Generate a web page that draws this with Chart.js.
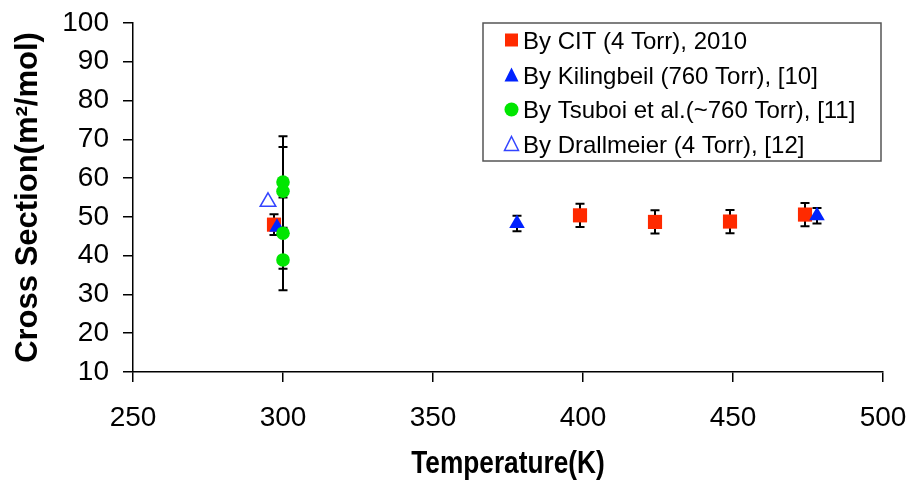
<!DOCTYPE html>
<html>
<head>
<meta charset="utf-8">
<script src="https://cdn.jsdelivr.net/npm/chart.js@4/dist/chart.umd.min.js"></script>
<style>
  html, body { margin:0; padding:0; background:#fff; }
  canvas { display:block; }
</style>
</head>
<body>
<canvas id="chart" width="914" height="482"></canvas>
<script>
// values
const xTicks = [250, 300, 350, 400, 450, 500];
const yTicks = [10, 20, 30, 40, 50, 60, 70, 80, 90, 100];

const citTemp  = [297, 399, 424, 449, 474];
const citValue = [48, 50.4, 48.7, 48.8, 50.6];
const citError = [2.7, 3, 3, 3, 3];

const kilTemp  = [298, 378, 478];
const kilValue = [47.3, 48.3, 50.3];
const kilError = [0, 2, 2];

const tsuTemp  = [300, 300, 300, 300];
const tsuValue = [59, 56.6, 45.8, 38.9];
const tsuError = [11.8, 11.4, 9.2, 7.8];

const draTemp  = [295];
const draValue = [53.9];

const seriesLabels = [
    "By CIT (4 Torr), 2010",
    "By Kilingbeil (760 Torr), [10]",
    "By Tsuboi et al.(~760 Torr), [11]",
    "By Drallmeier (4 Torr), [12]"
];
const xTitle = "Temperature(K)";
const yTitle = "Cross Section(m²/mol)";

function points(xs, ys){
    return xs.map((t,i) => ({x:t, y:ys[i]}));
}

Chart.defaults.font.family = "'Liberation Sans', Arial, sans-serif";
Chart.defaults.color = "#000";

/* error bars, drawn under the markers */
const errorBars = {
    id: "errorBars",
    beforeDatasetsDraw(chart){
        const {ctx, scales:{x, y}} = chart;
        ctx.save();
        ctx.strokeStyle = "#000";
        ctx.lineWidth = 2;
        chart.data.datasets.forEach(ds => {
            if(!ds.errors) return;
            ds.data.forEach((p,i) => {
                const e = ds.errors[i];
                if(!e) return;
                const px = x.getPixelForValue(p.x);
                const top = y.getPixelForValue(p.y + e);
                const bot = y.getPixelForValue(p.y - e);
                ctx.beginPath();
                ctx.moveTo(px, top); ctx.lineTo(px, bot);
                ctx.moveTo(px-4.5, top); ctx.lineTo(px+4.5, top);
                ctx.moveTo(px-4.5, bot); ctx.lineTo(px+4.5, bot);
                ctx.stroke();
            });
        });
        ctx.restore();
    }
};

/* condensed bold x title, centred under the plot */
const narrowTitle = {
    id: "narrowTitle",
    afterDraw(chart){
        const ctx = chart.ctx;
        const area = chart.chartArea;
        ctx.save();
        ctx.translate((area.left + area.right) / 2, 473);
        ctx.scale(0.82, 1);
        ctx.font = "bold 32px 'Liberation Sans', Arial, sans-serif";
        ctx.textAlign = "center";
        ctx.textBaseline = "alphabetic";
        ctx.fillStyle = "#000";
        ctx.fillText(xTitle, 0, 0);
        ctx.restore();
    }
};

/* boxed legend inside the plot */
const boxLegend = {
    id: "boxLegend",
    afterDraw(chart){
        const ctx = chart.ctx;
        const bx = 483, by = 23, bw = 398, bh = 138;
        ctx.save();
        ctx.fillStyle = "#fff";
        ctx.fillRect(bx, by, bw, bh);
        ctx.strokeStyle = "#555";
        ctx.lineWidth = 1.5;
        ctx.strokeRect(bx, by, bw, bh);

        const rowY = [40, 75, 109.5, 144];
        chart.data.datasets.forEach((ds, r) => {
            const cx = 511.5, cy = rowY[r];
            ctx.fillStyle = ds.backgroundColor;
            ctx.strokeStyle = ds.borderColor;
            ctx.lineWidth = ds.borderWidth || 1;
            ctx.beginPath();
            if(ds.pointStyle === "rect"){
                ctx.rect(cx-6.5, cy-6.5, 13, 13);
            } else if(ds.pointStyle === "circle"){
                ctx.arc(cx, cy, 7, 0, Math.PI*2);
            } else {
                ctx.moveTo(cx, cy-7.5);
                ctx.lineTo(cx+7, cy+6.5);
                ctx.lineTo(cx-7, cy+6.5);
                ctx.closePath();
            }
            ctx.fill();
            if(ds.borderWidth) ctx.stroke();

            ctx.fillStyle = "#000";
            ctx.font = "24px 'Liberation Sans', Arial, sans-serif";
            ctx.textBaseline = "alphabetic";
            ctx.fillText(ds.label, 523, cy + 8.6);
        });
        ctx.restore();
    }
};

const ctx = document.getElementById("chart");

const chart = new Chart(ctx, {
    type: "scatter",
    data: {
        datasets: [
        {
            label: seriesLabels[0],
            data: points(citTemp, citValue),
            errors: citError,
            pointStyle: "rect",
            pointRadius: 10,
            backgroundColor: "#ff2a00",
            borderColor: "#ff2a00",
            borderWidth: 0,
            order: 4
        },
        {
            label: seriesLabels[1],
            data: points(kilTemp, kilValue),
            errors: kilError,
            pointStyle: "triangle",
            pointRadius: 9,
            backgroundColor: "#0022ff",
            borderColor: "#0022ff",
            borderWidth: 0,
            order: 3
        },
        {
            label: seriesLabels[2],
            data: points(tsuTemp, tsuValue),
            errors: tsuError,
            pointStyle: "circle",
            pointRadius: 6.8,
            backgroundColor: "#00e600",
            borderColor: "#00e600",
            borderWidth: 0,
            order: 2
        },
        {
            label: seriesLabels[3],
            data: points(draTemp, draValue),
            pointStyle: "triangle",
            pointRadius: 9,
            backgroundColor: "#ffffff",
            borderColor: "#3344ff",
            borderWidth: 1.5,
            order: 1
        }]
    },
    options: {
        responsive: false,
        animation: false,
        events: [],
        layout: { padding: { top: 23, right: 31, left: 0, bottom: 0 } },
        plugins: {
            legend: { display: false },
            tooltip: { enabled: false }
        },
        scales: {
            x: {
                type: "linear",
                min: 250,
                max: 500,
                afterBuildTicks: s => { s.ticks = xTicks.map(v => ({value: v})); },
                afterFit: s => { s.height = 110; s.paddingLeft = 0; s.paddingRight = 0; },
                ticks: { font: { size: 28 }, padding: 19, color: "#000" },
                grid: { drawOnChartArea: false, drawTicks: true, tickLength: 10, color: "#000", lineWidth: 1.5 },
                border: { color: "#000", width: 1.5 }
            },
            y: {
                type: "linear",
                min: 10,
                max: 100,
                afterBuildTicks: s => { s.ticks = yTicks.map(v => ({value: v})); },
                afterFit: s => { s.width = 133; s.paddingTop = 0; s.paddingBottom = 0; },
                ticks: { font: { size: 28 }, padding: 14, color: "#000" },
                grid: { drawOnChartArea: false, drawTicks: true, tickLength: 10, color: "#000", lineWidth: 1.5 },
                border: { color: "#000", width: 1.5 },
                title: {
                    display: true,
                    text: yTitle,
                    font: { size: 31, weight: "bold" },
                    padding: { top: 10, bottom: 0 },
                    color: "#000"
                }
            }
        }
    },
    plugins: [errorBars, narrowTitle, boxLegend]
});
</script>
</body>
</html>
